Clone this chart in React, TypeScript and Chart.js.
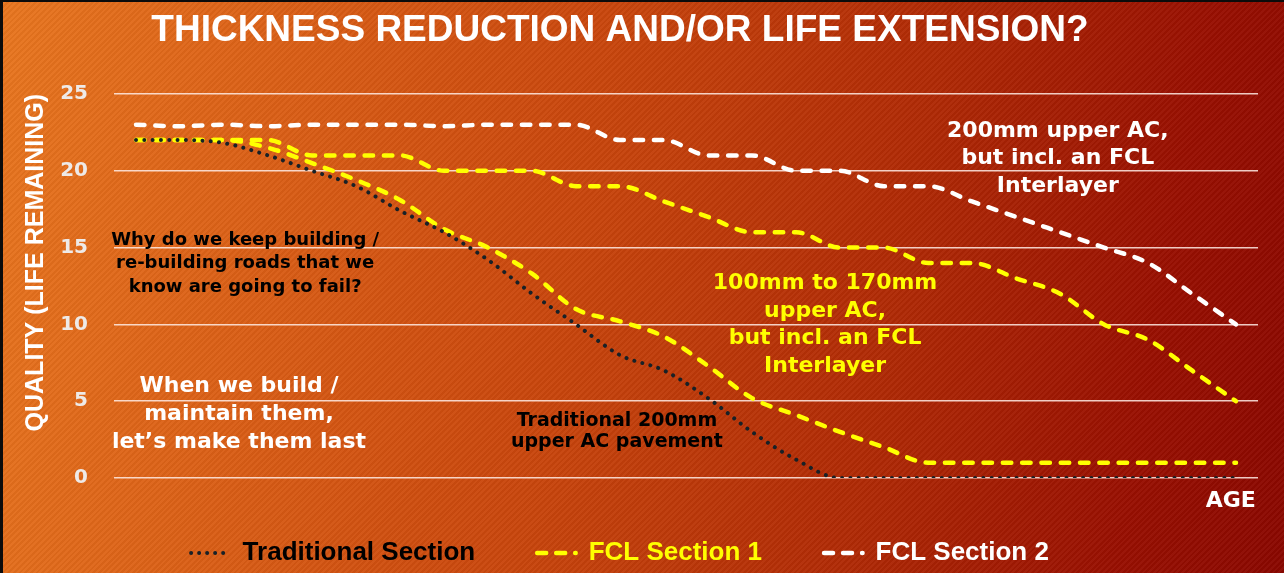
import React, { useEffect, useRef } from "react";
import { Chart, registerables } from "chart.js";

Chart.register(...registerables);

// ---------- data ----------
const ageLabels = [
  "1", "2", "3", "4", "5", "6", "7", "8", "9", "10", "11", "12", "13",
  "14", "15", "16", "17", "18", "19", "20", "21", "22", "23", "24", "25", "26",
];

const traditionalSection = [
  22, 22, 21.8, 21, 20, 19, 17.4, 16, 14.2, 12, 10, 8, 7, 5.2, 3, 1.2,
  0, 0, 0, 0, 0, 0, 0, 0, 0, 0,
];

const fclSection1 = [
  22, 22, 22, 22, 21, 21, 21, 20, 20, 20, 19, 19, 18, 17, 16, 16,
  15, 15, 14, 14, 13, 12, 10, 9, 7, 5,
];

const fclSection1Thin = [
  22, 22, 22, 21.5, 20.5, 19.4, 18.1, 16.2, 15, 13.3, 11, 10.2, 9.2, 7.3, 5.2, 4.1,
  3, 2, 1, 1, 1, 1, 1, 1, 1, 1,
];

const fclSection2 = [
  23, 22.9, 23, 22.9, 23, 23, 23, 22.9, 23, 23, 23, 22, 22, 21, 21, 20,
  20, 19, 19, 18, 17, 16, 15, 14, 12, 10,
];

const yTickValues = [0, 5, 10, 15, 20, 25];

const legendLabels = ["Traditional Section", "FCL Section 1", "FCL Section 2"];

// ---------- text notes (anchored in data units) ----------
const notes = [
  {
    lines: ["Why do we keep building /", "re-building roads that we", "know are going to fail?"],
    x: 2.48, y: 15.17, size: 18, lh: 23.5, color: "#000000",
  },
  {
    lines: ["When we build /", "maintain them,", "let\u2019s make them last"],
    x: 2.34, y: 5.6, size: 22, lh: 28, color: "#ffffff",
  },
  {
    lines: ["Traditional 200mm", "upper AC pavement"],
    x: 10.93, y: 3.39, size: 19, lh: 21.5, color: "#000000",
  },
  {
    lines: ["100mm to 170mm", "upper AC,", "but incl. an FCL", "Interlayer"],
    x: 15.66, y: 12.3, size: 22, lh: 27.7, color: "#ffff00",
  },
  {
    lines: ["200mm upper AC,", "but incl. an FCL", "Interlayer"],
    x: 20.95, y: 22.2, size: 22, lh: 27.5, color: "#ffffff",
  },
  {
    lines: ["AGE"],
    x: 24.88, y: -1.89, size: 22, lh: 22, color: "#ffffff",
  },
];

const notesPlugin = {
  id: "notes",
  afterDatasetsDraw(chart: any) {
    const { ctx, scales } = chart;
    const xs = scales.x;
    const ys = scales.y;
    ctx.save();
    ctx.textAlign = "center";
    ctx.textBaseline = "alphabetic";
    for (const n of notes) {
      ctx.font = `bold ${n.size}px "DejaVu Sans"`;
      ctx.fillStyle = n.color;
      const px = xs.getPixelForValue(n.x);
      const py = ys.getPixelForValue(n.y);
      n.lines.forEach((t, i) => ctx.fillText(t, px, py + i * n.lh));
    }
    ctx.restore();
  },
};

export default function App() {
  const ref = useRef<HTMLCanvasElement>(null);

  useEffect(() => {
    document.body.style.margin = "0";
    const datasets: any[] = [
      {
        label: legendLabels[0],
        data: traditionalSection,
        borderColor: "#182127",
        borderWidth: 4,
        borderDash: [0.01, 8.3],
        borderCapStyle: "round",
        legendText: "#000000",
        legendDash: [0.01, 8],
        legendOffset: 0,
        inLegend: true,
      },
      {
        label: legendLabels[1],
        data: fclSection1,
        borderColor: "#ffff00",
        borderWidth: 4.5,
        borderDash: [8.5, 10.8],
        borderCapStyle: "round",
        legendText: "#ffff00",
        legendDash: [9, 10],
        legendOffset: 0,
        inLegend: true,
      },
      {
        label: legendLabels[1] + " (reduced)",
        data: fclSection1Thin,
        borderColor: "#ffff00",
        borderWidth: 4.5,
        borderDash: [8.5, 10.8],
        borderCapStyle: "round",
        inLegend: false,
      },
      {
        label: legendLabels[2],
        data: fclSection2,
        borderColor: "#ffffff",
        borderWidth: 4.5,
        borderDash: [8.5, 10.8],
        borderCapStyle: "round",
        legendText: "#ffffff",
        legendDash: [9, 10],
        legendOffset: 0,
        inLegend: true,
      },
    ].map((d) => ({
      ...d,
      fill: false,
      cubicInterpolationMode: "monotone",
      pointRadius: 0,
      pointHoverRadius: 0,
    }));

    const chart = new Chart(ref.current!, {
      type: "line",
      data: { labels: ageLabels, datasets },
      plugins: [notesPlugin],
      options: {
        animation: false,
        responsive: true,
        maintainAspectRatio: false,
        layout: { padding: { left: -18, right: 26, top: 0, bottom: -3 } },
        scales: {
          x: {
            type: "category",
            display: false,
            offset: true,
          },
          y: {
            min: 0,
            max: 25,
            afterBuildTicks: (scale: any) => {
              scale.ticks = yTickValues.map((v) => ({ value: v }));
            },
            afterFit: (scale: any) => {
              scale.width = 132;
            },
            border: { display: false },
            grid: {
              color: "rgba(255,236,230,0.85)",
              lineWidth: 1.6,
              drawTicks: false,
            },
            ticks: {
              padding: 26,
              color: "#eeeae8",
              font: { family: '"DejaVu Sans"', size: 20, weight: "bold" },
            },
            title: {
              display: true,
              text: "QUALITY (LIFE REMAINING)",
              align: "end",
              color: "#ffffff",
              padding: { top: 39, bottom: 0 },
              font: { family: '"Liberation Sans"', size: 25, weight: "bold", lineHeight: 1.2 },
            },
          },
        },
        plugins: {
          tooltip: { enabled: false },
          title: {
            display: true,
            text: "THICKNESS REDUCTION AND/OR LIFE EXTENSION?",
            color: "#ffffff",
            padding: { top: 11, bottom: 43 },
            font: { family: '"Liberation Sans"', size: 37, weight: "bold", lineHeight: 1.08 },
          },
          legend: {
            position: "bottom",
            labels: {
              usePointStyle: true,
              pointStyle: "line",
              pointStyleWidth: 38.5,
              padding: 62,
              font: { family: '"Liberation Sans"', size: 26, weight: "bold" },
              generateLabels: (c: any) =>
                c.data.datasets
                  .map((ds: any, i: number) => ({
                    text: ds.label,
                    fillStyle: "rgba(0,0,0,0)",
                    strokeStyle: ds.borderColor,
                    lineWidth: ds.borderWidth,
                    lineDash: ds.legendDash,
                    lineDashOffset: ds.legendOffset,
                    lineCap: "round",
                    fontColor: ds.legendText,
                    pointStyle: "line",
                    hidden: false,
                    datasetIndex: i,
                    inLegend: ds.inLegend,
                  }))
                  .filter((it: any) => it.inLegend),
            },
          },
        },
      },
    } as any);
    return () => chart.destroy();
  }, []);

  return (
    <div
      style={{
        position: "relative",
        width: 1284,
        height: 573,
        overflow: "hidden",
        background:
          "repeating-linear-gradient(135deg, rgba(255,255,255,0.035) 0px, rgba(255,255,255,0.035) 2px, rgba(0,0,0,0.035) 2px, rgba(0,0,0,0.035) 4px), linear-gradient(100deg, #e8761f 0%, #da5e16 22%, #c8450c 45%, #b02a05 68%, #980f01 88%, #8a0700 100%)",
      }}
    >
      <canvas ref={ref} />
      <div
        style={{
          position: "absolute",
          inset: 0,
          borderLeft: "3px solid #0b0b0b",
          borderTop: "2px solid #0b0b0b",
          pointerEvents: "none",
        }}
      />
    </div>
  );
}
